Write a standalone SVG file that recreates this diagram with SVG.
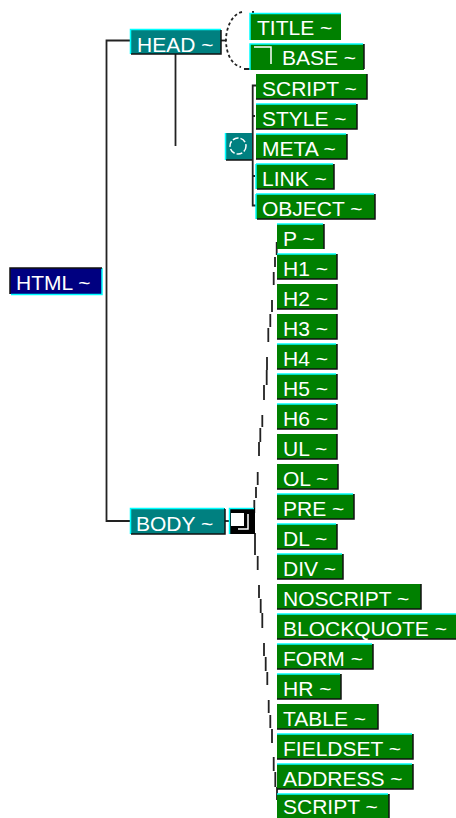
<svg xmlns="http://www.w3.org/2000/svg" width="456" height="818" viewBox="0 0 456 818">
<style>
text{font-family:"Liberation Sans",Arial,sans-serif;font-size:21px;fill:#fff}
.g{fill:#008000}.t{fill:#008080}.n{fill:#000080}
.hi{stroke:#00ffff;stroke-width:1.5;fill:none}
.lo{stroke:#111;stroke-width:1.5;fill:none}
.c{stroke:#222;stroke-width:1.8;fill:none}
</style>
<rect width="456" height="818" fill="#fff"/>
<g id="connectors">
<path class="c" d="M130 40.500H106.500V521H130"/>
<path class="c" d="M175.500 54V146"/>
<path class="c" d="M221 40.500H226"/>
<path class="c" d="M242 12C232 14 226 28 226 40C226 54 232 65 241 67" stroke-dasharray="3 2.500"/>
<path class="c" d="M244 69H253M252 12H254"/>
<path class="c" d="M256 85.500H252.700V205.500H256M252.700 116H255M252.700 176H255"/>
<path class="c" d="M225 521H229"/>
<path class="c" d="M276.700 242V255M275 257V267M273.700 272V285M272 300V312M270.300 314V327M268.300 328V342M267 357V370M266.700 370V385M264 385V400M262.300 415V427M260.300 428V442M259 442V456M257.700 472V485M256 487V498M254.300 500V513M255 533V555M257.700 556V570M259 585V598M260.700 599V613M262.300 613V628M264 643V656M265.700 657V671M267.300 672V685M268.700 700V713M270.300 715V728M272 729V743M273.700 757V771M275.300 772V787M277 787V800"/>
</g>
<g id="n-html"><rect class="n" x="10" y="268" width="92" height="26"/><path class="hi" d="M11 294.500H102V268"/><path class="lo" d="M10 294V268H102"/><text x="16" y="290">HTML ~</text></g>
<g id="n-head"><rect class="t" x="130" y="29" width="91" height="25"/><path class="hi" d="M130.500 54V29.500H221"/><path class="lo" d="M131 54H221V30"/><text x="137" y="52">HEAD ~</text></g>
<g id="n-body"><rect class="t" x="130" y="508" width="95" height="26"/><path class="hi" d="M130.500 534V508.500H224"/><path class="lo" d="M131 534H225V509"/><text x="136" y="531">BODY ~</text></g>
<g id="n-head-toggle"><rect class="t" x="225" y="133" width="27" height="27"/><path class="hi" d="M225.500 160V133"/><path class="lo" d="M226 160H252"/><circle cx="238" cy="146" r="8" fill="none" stroke="#fff" stroke-width="1.500" stroke-dasharray="6 2"/></g>
<g id="n-body-toggle"><rect x="229" y="508" width="26" height="26" fill="#000"/><path class="hi" d="M229.500 534V508.500H254"/><rect x="231" y="513" width="13" height="13" fill="#fff"/><path d="M248 514V529H238" fill="none" stroke="#fff" stroke-width="1.500"/></g>
<g id="n-title"><rect class="g" x="250" y="13" width="91" height="27"/><path class="hi" d="M250 40V13.500H341"/><text x="257" y="35">TITLE ~</text></g>
<g id="n-base"><rect class="g" x="250" y="44" width="114" height="26"/><path class="hi" d="M250 70V44H363"/><path class="lo" d="M364 44V69"/><path d="M254 47H271V64" fill="none" stroke="#fff" stroke-width="1.500"/><text x="282" y="65">BASE ~</text></g>
<g id="n-script"><rect class="g" x="256" y="74" width="111" height="25"/><path class="lo" d="M256 99H367V74"/><text x="262" y="96">SCRIPT ~</text></g>
<g id="n-style"><rect class="g" x="256" y="104" width="101" height="25"/><path class="hi" d="M256 104H356"/><path class="lo" d="M256 129H357V104"/><text x="262" y="126">STYLE ~</text></g>
<g id="n-meta"><rect class="g" x="256" y="134" width="91" height="25"/><path class="hi" d="M256 134H346"/><path class="lo" d="M256 159H347V134"/><text x="262" y="156">META ~</text></g>
<g id="n-link"><rect class="g" x="256" y="164" width="78" height="25"/><path class="hi" d="M256 164V189M256 164H333"/><path class="lo" d="M257 189H334V164"/><text x="262" y="186">LINK ~</text></g>
<g id="n-object"><rect class="g" x="256" y="194" width="119" height="25"/><path class="hi" d="M256 194V219M256 194H374"/><path class="lo" d="M257 219H375V194"/><text x="262" y="216">OBJECT ~</text></g>
<g id="n-p"><rect class="g" x="277" y="224" width="47" height="25"/><path class="hi" d="M277 224H323"/><path class="lo" d="M324 249V224"/><text x="283" y="246">P ~</text></g>
<g id="n-h1"><rect class="g" x="277" y="254" width="60" height="25"/><path class="hi" d="M277 254H336"/><path class="lo" d="M277 279H337V254"/><text x="283" y="276">H1 ~</text></g>
<g id="n-h2"><rect class="g" x="277" y="284" width="60" height="25"/><path class="lo" d="M277 309H337V284"/><text x="283" y="306">H2 ~</text></g>
<g id="n-h3"><rect class="g" x="277" y="314" width="60" height="25"/><path class="lo" d="M277 339H337V314"/><text x="283" y="336">H3 ~</text></g>
<g id="n-h4"><rect class="g" x="277" y="344" width="60" height="25"/><path class="hi" d="M277 344H336"/><path class="lo" d="M277 369H337V344"/><text x="283" y="366">H4 ~</text></g>
<g id="n-h5"><rect class="g" x="277" y="374" width="60" height="25"/><path class="hi" d="M277 374H336"/><path class="lo" d="M277 399H337V374"/><text x="283" y="396">H5 ~</text></g>
<g id="n-h6"><rect class="g" x="277" y="404" width="60" height="25"/><path class="hi" d="M277 404H336"/><path class="lo" d="M277 429H337V404"/><text x="283" y="426">H6 ~</text></g>
<g id="n-ul"><rect class="g" x="277" y="434" width="60" height="25"/><path class="lo" d="M277 459H337V434"/><text x="283" y="456">UL ~</text></g>
<g id="n-ol"><rect class="g" x="277" y="464" width="61" height="25"/><path class="lo" d="M277 489H338V464"/><text x="283" y="486">OL ~</text></g>
<g id="n-pre"><rect class="g" x="277" y="494" width="77" height="25"/><path class="hi" d="M277 494H353"/><path class="lo" d="M277 519H354V494"/><text x="283" y="516">PRE ~</text></g>
<g id="n-dl"><rect class="g" x="277" y="524" width="60" height="25"/><path class="hi" d="M277 524H336"/><path class="lo" d="M277 549H337V524"/><text x="283" y="546">DL ~</text></g>
<g id="n-div"><rect class="g" x="277" y="554" width="66" height="25"/><path class="hi" d="M277 554H342"/><path class="lo" d="M277 579H343V554"/><text x="283" y="576">DIV ~</text></g>
<g id="n-noscript"><rect class="g" x="277" y="584" width="144" height="25"/><path class="lo" d="M277 609H421V584"/><text x="283" y="606">NOSCRIPT ~</text></g>
<g id="n-blockquote"><rect class="g" x="277" y="614" width="179" height="25"/><path class="hi" d="M277 614H456"/><path class="lo" d="M277 639H456"/><text x="283" y="636">BLOCKQUOTE ~</text></g>
<g id="n-form"><rect class="g" x="277" y="644" width="96" height="25"/><path class="hi" d="M277 644H372"/><path class="lo" d="M277 669H373V644"/><text x="283" y="666">FORM ~</text></g>
<g id="n-hr"><rect class="g" x="277" y="674" width="64" height="25"/><path class="hi" d="M277 674H340"/><path class="lo" d="M277 699H341V674"/><text x="283" y="696">HR ~</text></g>
<g id="n-table"><rect class="g" x="277" y="704" width="101" height="25"/><path class="lo" d="M277 729H378V704"/><text x="283" y="726">TABLE ~</text></g>
<g id="n-fieldset"><rect class="g" x="277" y="734" width="136" height="25"/><path class="hi" d="M277 734H412"/><path class="lo" d="M277 759H413V734"/><text x="283" y="756">FIELDSET ~</text></g>
<g id="n-address"><rect class="g" x="277" y="764" width="136" height="25"/><path class="hi" d="M277 764H412"/><path class="lo" d="M277 789H413V764"/><text x="283" y="786">ADDRESS ~</text></g>
<g id="n-script2"><rect class="g" x="277" y="794" width="112" height="24"/><path class="hi" d="M277 794H388"/><path class="lo" d="M389 794V818"/><text x="283" y="813.500">SCRIPT ~</text></g>
</svg>
